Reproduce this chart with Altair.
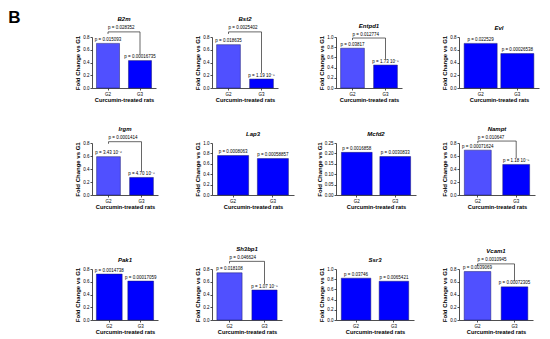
import altair as alt
import pandas as pd

# ---------------- data ----------------
genes = ["B2m", "Bst2", "Entpd1", "Evl", "Irgm", "Lap3", "Mcfd2", "Nampt",
         "Pak1", "Sh3bp1", "Ssr3", "Vcam1"]
groups = ["G2", "G3"]
g2_values = [0.70, 0.68, 0.78, 0.70, 0.59, 0.76, 0.205, 0.69, 0.72, 0.74, 0.82, 0.76]
g3_values = [0.43, 0.14, 0.45, 0.54, 0.27, 0.70, 0.185, 0.47, 0.61, 0.47, 0.76, 0.52]
g2_pvals = ["p = 0.015093", "p = 0.018635", "p = 0.03817", "p = 0.022529",
            "p = 3.43 10⁻⁶", "p = 0.0008063", "p = 0.0016858", "p = 0.00071624",
            "p = 0.0014738", "p = 0.018108", "p = 0.03746", "p = 0.0039069"]
g3_pvals = ["p = 0.00016735", "p = 1.19 10⁻⁵", "p = 1.73 10⁻⁵", "p = 0.00026538",
            "p = 4.70 10⁻⁸", "p = 0.00058857", "p = 0.0030833", "p = 1.18 10⁻⁵",
            "p = 0.00017059", "p = 1.07 10⁻⁵", "p = 0.0065421", "p = 0.00072305"]
bracket_pvals = ["p = 0.028352", "p = 0.0025402", "p = 0.012774", "",
                 "p = 0.0001414", "", "", "p = 0.010647",
                 "", "p = 0.046624", "", "p = 0.0010945"]
bracket_levels = [0.88, 0.88, 0.98, None, 0.82, None, None, 0.83, None, 0.92, None, 0.88]
ticks_08 = [0.0, 0.2, 0.4, 0.6, 0.8]
ticks_10 = [0.0, 0.2, 0.4, 0.6, 0.8, 1.0]
ticks_025 = [0.0, 0.05, 0.10, 0.15, 0.20, 0.25]
y_ticks = [ticks_08, ticks_08, ticks_10, ticks_08, ticks_08, ticks_10,
           ticks_025, ticks_08, ticks_08, ticks_08, ticks_10, ticks_08]
y_formats = [".1f", ".1f", ".1f", ".1f", ".1f", ".1f", ".2f", ".1f", ".1f", ".1f", ".1f", ".1f"]

# ---------------- layout / style ----------------
FONT = "Liberation Sans"
LIGHT = "#5050FF"
DARK = "#0000FF"
panel_widths = [64, 66, 66, 80, 66, 82, 80, 76, 66, 70, 78, 74]
pad_inner = [0.28, 0.28, 0.28, 0.1, 0.28, 0.22, 0.2, 0.3, 0.18, 0.28, 0.22, 0.28]
row_heights = [51, 52, 51]
row_gaps = [55, 74]
col_gaps = [54, 42, 43]


def panel(i, h):
    ymax = y_ticks[i][-1]
    two_tone = bracket_levels[i] is not None
    df = pd.DataFrame({
        "group": groups,
        "value": [g2_values[i], g3_values[i]],
        "label": [g2_pvals[i], g3_pvals[i]],
        "tone": ["light" if two_tone else "dark", "dark"],
    })
    x_enc = alt.X("group:N", sort=groups,
                  scale=alt.Scale(domain=groups, paddingInner=pad_inner[i], paddingOuter=0.14),
                  axis=alt.Axis(title="Curcumin-treated rats", labelAngle=0))
    y_enc = alt.Y("value:Q",
                  scale=alt.Scale(domain=[0, ymax], nice=False, zero=True),
                  axis=alt.Axis(values=y_ticks[i], format=y_formats[i],
                                title="Fold Change vs G1"))
    bars = alt.Chart(df).mark_bar(stroke="#1a1a70", strokeWidth=0.5).encode(
        x=x_enc, y=y_enc,
        color=alt.Color("tone:N", scale=alt.Scale(domain=["light", "dark"], range=[LIGHT, DARK]),
                        legend=None))
    labels = alt.Chart(df).mark_text(baseline="bottom", dy=-1.5, fontSize=4.5,
                                     font=FONT, color="black").encode(
        x=x_enc, y=y_enc, text="label:N")
    layers = [bars, labels]
    if two_tone:
        lvl = bracket_levels[i]
        bdf = pd.DataFrame({
            "group": ["G2", "G2", "G3", "G3"],
            "value": [lvl - 0.04 * ymax, lvl, lvl, g3_values[i] + 0.12 * ymax],
            "i": [0, 1, 2, 3],
        })
        line = alt.Chart(bdf).mark_line(color="black", strokeWidth=0.6).encode(
            x=x_enc, y=y_enc, order="i:Q")
        tdf = pd.DataFrame({"group": ["G2"], "value": [lvl], "label": [bracket_pvals[i]]})
        btext = alt.Chart(tdf).mark_text(align="left", baseline="bottom", dy=-1.5,
                                         fontSize=4.5, font=FONT, color="black").encode(
            x=x_enc, y=y_enc, text="label:N")
        layers += [line, btext]
    return alt.layer(*layers).properties(
        width=panel_widths[i], height=h,
        title=alt.TitleParams(genes[i], fontStyle="italic", fontWeight="bold",
                              fontSize=6, font=FONT, offset=3, anchor="middle"))


def spacer(w, h):
    return alt.Chart(pd.DataFrame({"s": [0]})).mark_point(opacity=0, size=1).encode(
        x=alt.value(0), y=alt.value(0)).properties(width=w, height=h)


items = []
for r in range(3):
    for c in range(4):
        items.append(panel(r * 4 + c, row_heights[r]))
        if c < 3:
            items.append(spacer(col_gaps[c], 1))
    if r < 2:
        for _ in range(7):
            items.append(spacer(1, row_gaps[r]))

chart = alt.concat(*items, columns=7, spacing=0, bounds="flush", align="each").properties(
    title=alt.TitleParams("B", anchor="start", fontSize=17, fontWeight="bold", font=FONT,
                          dx=-66, dy=11, offset=0),
    padding=0,
).configure_view(stroke="transparent").configure_axis(
    labelFont=FONT, titleFont=FONT, labelFontSize=4.5, titleFontSize=6,
    titleFontWeight="bold", labelColor="black", titleColor="black",
    domainColor="#222", tickColor="#222", domainWidth=0.8, tickWidth=0.8,
    tickSize=2, grid=False, labelPadding=1, titlePadding=2,
).configure_axisX(titleFontSize=5.7, titlePadding=1).configure_text(font=FONT)

chart.save("out.html", embed_options={"renderer": "svg", "actions": False})
